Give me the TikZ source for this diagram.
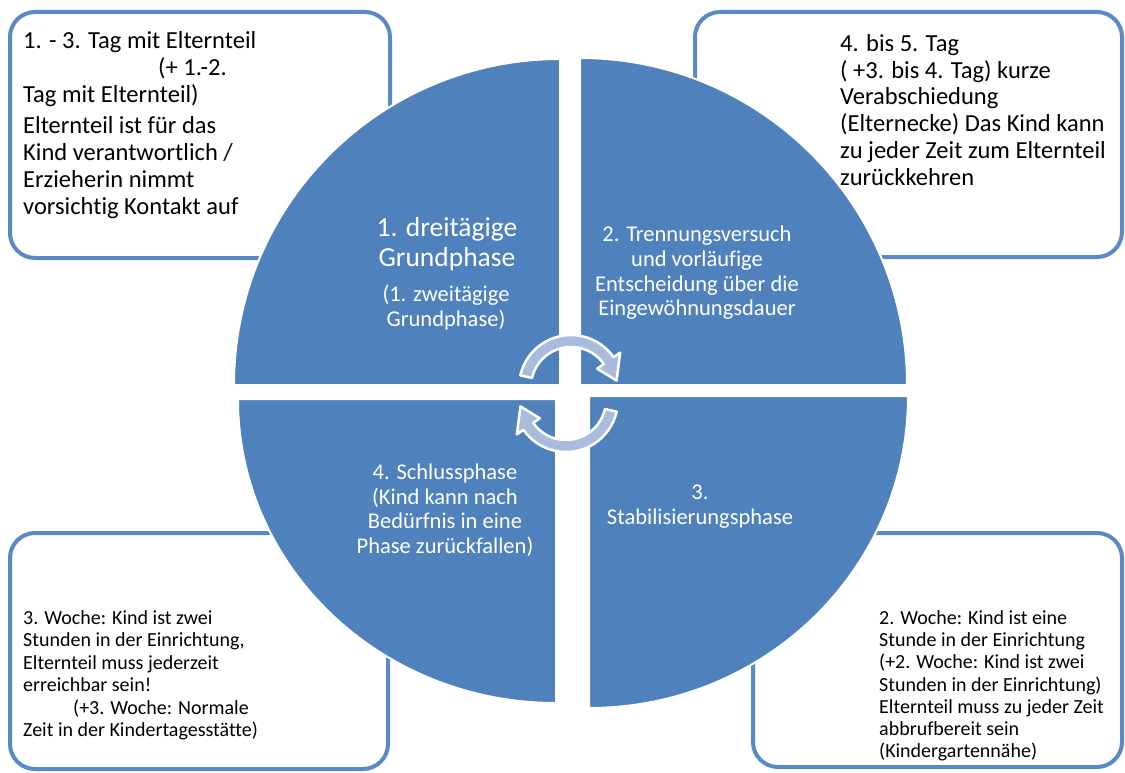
\documentclass[tikz,border=0pt]{standalone}
\usepackage{fontspec}
\setmainfont{Carlito}[Ligatures={NoCommon}]
\usetikzlibrary{calc}
\definecolor{qblue}{HTML}{4F81BD}
\definecolor{bblue}{HTML}{5A8AC6}
\definecolor{arrfill}{HTML}{A9BCDD}
\tikzset{
  infobox/.style={draw=bblue, line width=4pt, fill=white, rounded corners=25pt},
  quad/.style={fill=qblue, draw=white, line width=2pt},
  cyc/.style={fill=arrfill, draw=white, line width=2.5pt, line join=round},
  boxtxt/.style={align=left, inner sep=0pt, anchor=north west, text=black},
  quadtxt/.style={align=center, inner sep=0pt, anchor=north, text=white}
}
\begin{document}
\begin{tikzpicture}[x=1pt,y=-1pt]
\useasboundingbox (0,0) rectangle (1125,773);
\fill[white] (0,0) rectangle (1125,773);

% corner boxes
\draw[infobox] (10,12) rectangle (390,258);
\draw[infobox] (695,12) rectangle (1122,257);
\draw[infobox] (10,533) rectangle (388,769);
\draw[infobox] (753,533) rectangle (1122,767);

% quadrants
\filldraw[quad] (560,385) -- ++(-326,0) arc[start angle=180,end angle=270,radius=326] -- cycle;
\filldraw[quad] (580,385) -- ++(0,-327) arc[start angle=270,end angle=360,radius=327] -- cycle;
\filldraw[quad] (589,396) -- ++(319,0) arc[start angle=0,end angle=90,x radius=319,y radius=312] -- cycle;
\filldraw[quad] (556,399) -- ++(0,304) arc[start angle=90,end angle=180,x radius=318,y radius=304] -- cycle;

% cycle arrows
\coordinate (T) at (571,387);
\coordinate (B) at (566,400);
\filldraw[cyc] ($(T)+(193:52)$) arc[start angle=193,end angle=325,radius=52]
  -- ($(T)+(325:60)$) -- ($(T)+(352:46)$) -- ($(T)+(325:32)$) -- ($(T)+(325:40)$)
  arc[start angle=325,end angle=193,radius=40] -- cycle;
\filldraw[cyc] ($(B)+(13:52)$) arc[start angle=13,end angle=145,radius=52]
  -- ($(B)+(145:60)$) -- ($(B)+(172:46)$) -- ($(B)+(145:32)$) -- ($(B)+(145:40)$)
  arc[start angle=145,end angle=13,radius=40] -- cycle;

% box texts
\node[boxtxt, font=\fontsize{24.5}{27}\selectfont] (tltext) at (23,31)
 {1. - 3. Tag mit Elternteil\\\hspace*{135pt}(+ 1.-2.\\Tag mit Elternteil)\\[4pt]Elternteil ist für das\\Kind verantwortlich /\\Erzieherin nimmt\\vorsichtig Kontakt auf};
\node[boxtxt, font=\fontsize{24.5}{26.8}\selectfont] (trtext) at (840,34)
 {4. bis 5. Tag\\( +3. bis 4. Tag) kurze\\Verabschiedung\\(Elternecke) Das Kind kann\\zu jeder Zeit zum Elternteil\\zurückkehren};
\node[boxtxt, font=\fontsize{20}{22.4}\selectfont] (bltext) at (23,610.5)
 {3. Woche: Kind ist zwei\\Stunden in der Einrichtung,\\Elternteil muss jederzeit\\erreichbar sein!\\\hspace*{50pt}(+3. Woche: Normale\\Zeit in der Kindertagesstätte)};
\node[boxtxt, font=\fontsize{20}{22.2}\selectfont] (brtext) at (879,610.5)
 {2. Woche: Kind ist eine\\Stunde in der Einrichtung\\(+2. Woche: Kind ist zwei\\Stunden in der Einrichtung)\\Elternteil muss zu jeder Zeit\\abbrufbereit sein\\(Kindergartennähe)};

% quadrant texts
\node[quadtxt, font=\fontsize{27.5}{30}\selectfont] (q1) at (447,217) {1. dreitägige\\Grundphase};
\node[quadtxt, font=\fontsize{22.5}{25}\selectfont] (q1b) at (446,285) {(1. zweitägige\\Grundphase)};
\node[quadtxt, font=\fontsize{22.5}{24.7}\selectfont] (q2) at (697,226) {2. Trennungsversuch\\und vorläufige\\Entscheidung über die\\Eingewöhnungsdauer};
\node[quadtxt, font=\fontsize{22.5}{25}\selectfont] (q3) at (700,485) {3.\\Stabilisierungsphase};
\node[quadtxt, font=\fontsize{22.5}{24.5}\selectfont] (q4) at (445,464) {4. Schlussphase\\(Kind kann nach\\Bedürfnis in eine\\Phase zurückfallen)};
\end{tikzpicture}
\end{document}
